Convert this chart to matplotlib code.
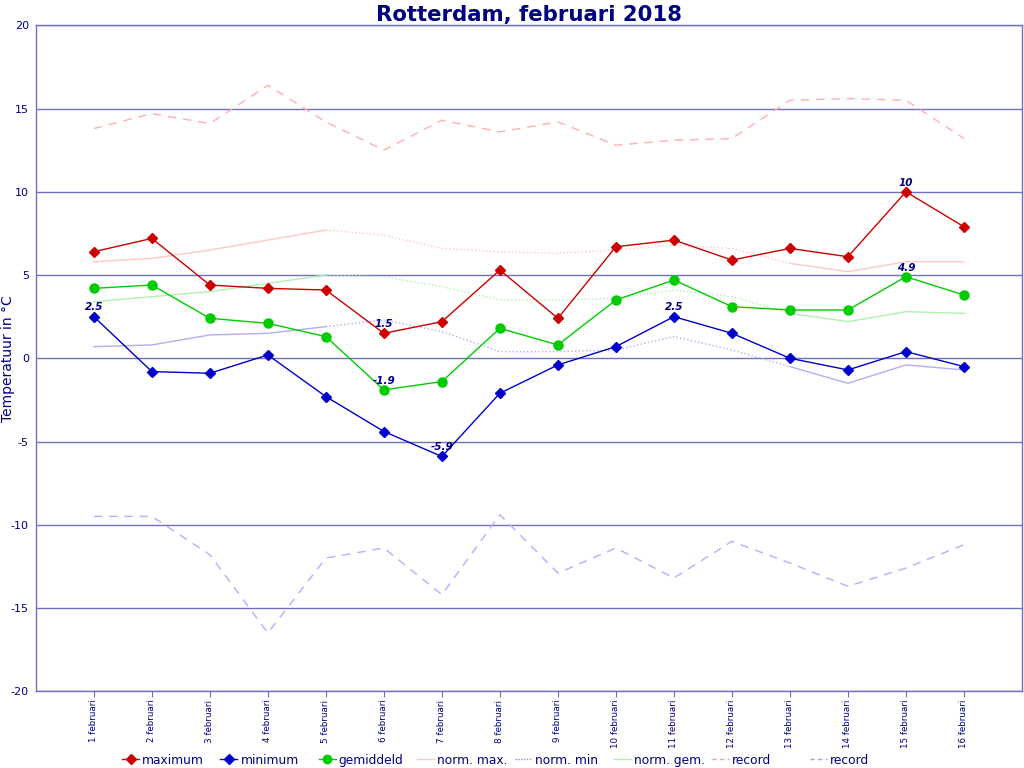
import matplotlib
matplotlib.use("Agg")
import matplotlib.pyplot as plt
import numpy as np
from matplotlib.lines import Line2D

plt.rcParams["axes.unicode_minus"] = False

days = list(range(1, 17))
labels = [f"{d} februari" for d in days]

maximum = [6.4, 7.2, 4.4, 4.2, 4.1, 1.5, 2.2, 5.3, 2.4, 6.7, 7.1, 5.9, 6.6, 6.1, 10.0, 7.9]
minimum = [2.5, -0.8, -0.9, 0.2, -2.3, -4.4, -5.9, -2.1, -0.4, 0.7, 2.5, 1.5, 0.0, -0.7, 0.4, -0.5]
gemiddeld = [4.2, 4.4, 2.4, 2.1, 1.3, -1.9, -1.4, 1.8, 0.8, 3.5, 4.7, 3.1, 2.9, 2.9, 4.9, 3.8]
norm_max = [5.8, 6.0, 6.5, 7.1, 7.7, 7.4, 6.6, 6.4, 6.3, 6.5, 6.8, 6.6, 5.7, 5.2, 5.8, 5.8]
norm_min = [0.7, 0.8, 1.4, 1.5, 1.9, 2.3, 1.6, 0.4, 0.4, 0.5, 1.3, 0.5, -0.5, -1.5, -0.4, -0.7]
norm_gem = [3.4, 3.7, 4.0, 4.5, 5.0, 4.9, 4.3, 3.5, 3.5, 3.6, 4.1, 3.7, 2.7, 2.2, 2.8, 2.7]
record_max = [13.8, 14.7, 14.1, 16.4, 14.2, 12.5, 14.3, 13.6, 14.2, 12.8, 13.1, 13.2, 15.5, 15.6, 15.5, 13.2]
record_min = [-9.5, -9.5, -11.8, -16.5, -12.0, -11.4, -14.2, -9.4, -12.9, -11.4, -13.2, -11.0, -12.3, -13.7, -12.6, -11.2]

legend_names = ["maximum", "minimum", "gemiddeld", "norm. max.", "norm. min", "norm. gem.", "record", "record"]

navy = "#000080"
grid_c = "#7070c0"

fig = plt.figure(figsize=(10.24, 7.68), dpi=100)
ax = fig.add_axes([0.035, 0.100, 0.963, 0.867])

x = np.array(days)

def seg_plot(vals, color, lw=1.0):
    v = np.array(vals)
    ax.plot(x[:5], v[:5], color=color, lw=lw, ls="-", zorder=2)
    ax.plot(x[4:13], v[4:13], color=color, lw=lw, ls=":", zorder=2)
    ax.plot(x[12:], v[12:], color=color, lw=lw, ls="-", zorder=2)

ax.plot(x, record_max, color="#ffb0b0", lw=1.0, ls=(0, (6, 5)), zorder=2)
ax.plot(x, record_min, color="#b0b0ff", lw=1.0, ls=(0, (6, 5)), zorder=2)
seg_plot(norm_max, "#ffc8c8")
seg_plot(norm_min, "#b0b0f0")
seg_plot(norm_gem, "#b0f0b0")

ax.plot(x, maximum, color="#cc0000", lw=1.0, marker="D", ms=5.5, zorder=4)
ax.plot(x, minimum, color="#0000cc", lw=1.0, marker="D", ms=5.5, zorder=4)
ax.plot(x, gemiddeld, color="#00cc00", lw=1.0, marker="o", ms=6.5, zorder=4)

def extremes(vals):
    v = np.array(vals)
    return sorted(set(np.where(v == v.max())[0]) | set(np.where(v == v.min())[0]))

lbl_kw = dict(color=navy, fontsize=7.5, fontstyle="italic", fontweight="bold",
              ha="center", va="bottom", zorder=5)
for series in (maximum, minimum, gemiddeld):
    for i in extremes(series):
        val = series[i]
        ax.text(x[i], val + 0.25, f"{val:g}", **lbl_kw)

ax.set_xlim(0, 17)
ax.set_ylim(-20, 20)
ax.set_yticks(np.arange(-20, 21, 5))
ax.yaxis.grid(True, color=grid_c, lw=1.0)
ax.set_axisbelow(True)
ax.set_xticks(x)
ax.set_xticklabels(labels, rotation=90, fontsize=6.3, color=navy)
ax.tick_params(axis="y", length=0, labelsize=8, labelcolor=navy, pad=5)
ax.tick_params(axis="x", length=4, color=grid_c, pad=2)
for s in ax.spines.values():
    s.set_color(grid_c)
    s.set_linewidth(1.0)

ax.set_ylabel("Temperatuur in °C", color=navy, fontsize=10)
ax.yaxis.set_label_coords(-0.021, 0.5)
ax.set_title("Rotterdam, februari 2018", color=navy, fontsize=15.3, fontweight="bold", pad=3)

handles = [
    Line2D([], [], color="#cc0000", lw=1, marker="D", ms=5),
    Line2D([], [], color="#0000cc", lw=1, marker="D", ms=5),
    Line2D([], [], color="#00cc00", lw=1, marker="o", ms=6),
    Line2D([], [], color="#ffc8c8", lw=1),
    Line2D([], [], color="#9090e0", lw=1, ls=(0, (1, 1))),
    Line2D([], [], color="#b0f0b0", lw=1),
    Line2D([], [], color="#ffa0a0", lw=1, ls=(0, (3, 2.5))),
    Line2D([], [], color="#a0a0ff", lw=1, ls=(0, (3, 2.5))),
]
for k, (h, n) in enumerate(zip(handles, legend_names)):
    xpos = (122 + 98.3 * k) / 1024
    leg = fig.legend([h], [n], loc="center left", bbox_to_anchor=(xpos, 0.0104),
                     frameon=False, fontsize=8.8, handlelength=1.4, handletextpad=0.25,
                     borderpad=0, borderaxespad=0)
    for t in leg.get_texts():
        t.set_color(navy)

fig.savefig("out.png", dpi=100)
